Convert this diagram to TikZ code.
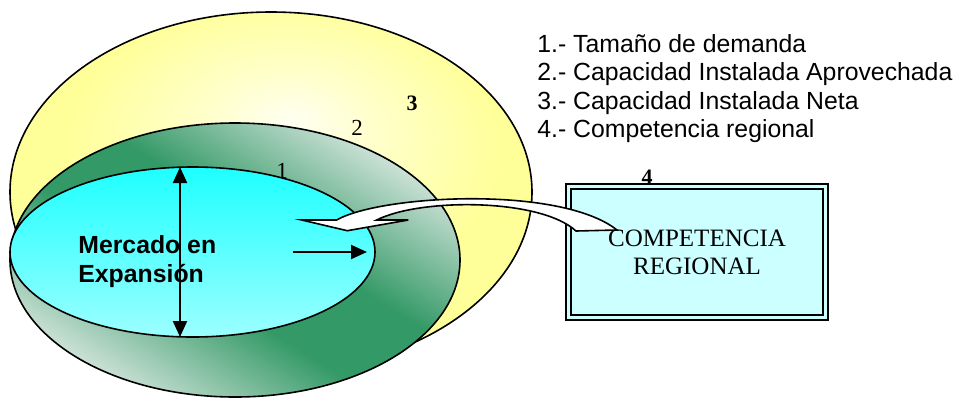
\documentclass[tikz,border=0pt]{standalone}
\usepackage{fontspec}
\setmainfont{Liberation Serif}
\setsansfont{Liberation Sans}
\usetikzlibrary{shapes.geometric,arrows.meta,positioning}
\definecolor{sunyellow}{HTML}{FFFF99}
\definecolor{paleyellow}{HTML}{FFFFCC}
\definecolor{glowyellow}{HTML}{FFFFF2}
\definecolor{seagreen}{HTML}{339966}
\definecolor{mistgreen}{HTML}{E9EFEC}
\definecolor{marketcyan}{HTML}{1EFFFF}
\definecolor{palecyan}{HTML}{9CFFFF}
\definecolor{boxcyan}{HTML}{CCFFFF}
\pgfdeclareradialshading{netglow}{\pgfpoint{2bp}{10bp}}{color(0bp)=(glowyellow); color(8bp)=(paleyellow); color(21bp)=(sunyellow); color(50bp)=(sunyellow)}
\pgfdeclareverticalshading{ringband}{100bp}{color(0bp)=(mistgreen); color(22bp)=(mistgreen); color(44bp)=(seagreen); color(56bp)=(seagreen); color(78bp)=(mistgreen); color(100bp)=(mistgreen)}

\begin{document}
\begin{tikzpicture}[x=0.5pt, y=-0.5pt, >={Triangle[length=8pt,width=7pt]}]
	%define block styles
	\tikzset{
		ring/.style={ellipse, inner sep=0pt, outer sep=0pt, draw=black, line width=0.8pt},
		netcap/.style={ring, minimum width=261pt, minimum height=180pt, shading=netglow},
		usedcap/.style={ring, minimum width=225pt, minimum height=137pt, shading=ringband, shading angle=-32},
		demand/.style={ring, minimum width=182.5pt, minimum height=85pt, top color=marketcyan, bottom color=palecyan},
		region/.style={rectangle, draw=black, line width=1pt, double=boxcyan, double distance=1.5pt, fill=boxcyan, minimum width=128.5pt, minimum height=65.5pt, inner sep=0pt, align=center, font=\fontsize{12.5}{14}\selectfont},
		tag/.style={font=\fontsize{11.5}{13}\selectfont, inner sep=0pt, anchor=base},
		legend/.style={font=\sffamily\fontsize{12.4}{14.25}\selectfont, inner sep=0pt, anchor=base west},
		arrow/.style={line width=1pt,->},}
	\useasboundingbox (0,0) rectangle (959,398);
	%define nodes
	\node[netcap](net) at (271,192){};
	\node[usedcap](used) at (235,260){};
	\node[demand](market) at (192.5,252){};
	\draw[arrow,<->] ([xshift=-6.25pt]market.north) -- ([xshift=-6.25pt]market.south);
	\coordinate (push) at (293,252);
	\draw[arrow] (push) -- ([xshift=-4pt]market.east);
	\node[font=\sffamily\bfseries\fontsize{12.4}{14.5}\selectfont, align=left, inner sep=0pt, anchor=north west](growth) at (78,235){Mercado en\\Expansión};
	\node[tag](d1) at (282,178){1};
	\node[tag](d2) at (357,135){2};
	\node[tag, font=\bfseries\fontsize{11}{13}\selectfont](d3) at (412,110.5){3};
	\node[region](rival) at (697,252){COMPETENCIA\\REGIONAL};
	\node[tag, font=\bfseries\fontsize{11}{13}\selectfont](d4) at (647,184){4};
	%curved arrow from the box
	\draw[fill=white, line width=0.8pt] (301.7,220) -- (336.7,220) .. controls (380,195) and (560,185) .. (617,230) -- (576,231) .. controls (540,198) and (420,198) .. (376.7,220) -- (408.3,220) -- (347.3,230.7) -- cycle;
	%legend
	\node[legend](leg1) at (537,52){1.- Tamaño de demanda};
	\node[legend](leg2) at (537,80.5){2.- Capacidad Instalada Aprovechada};
	\node[legend](leg3) at (537,109){3.- Capacidad Instalada Neta};
	\node[legend](leg4) at (537,137.5){4.- Competencia regional};
\end{tikzpicture}
\end{document}
